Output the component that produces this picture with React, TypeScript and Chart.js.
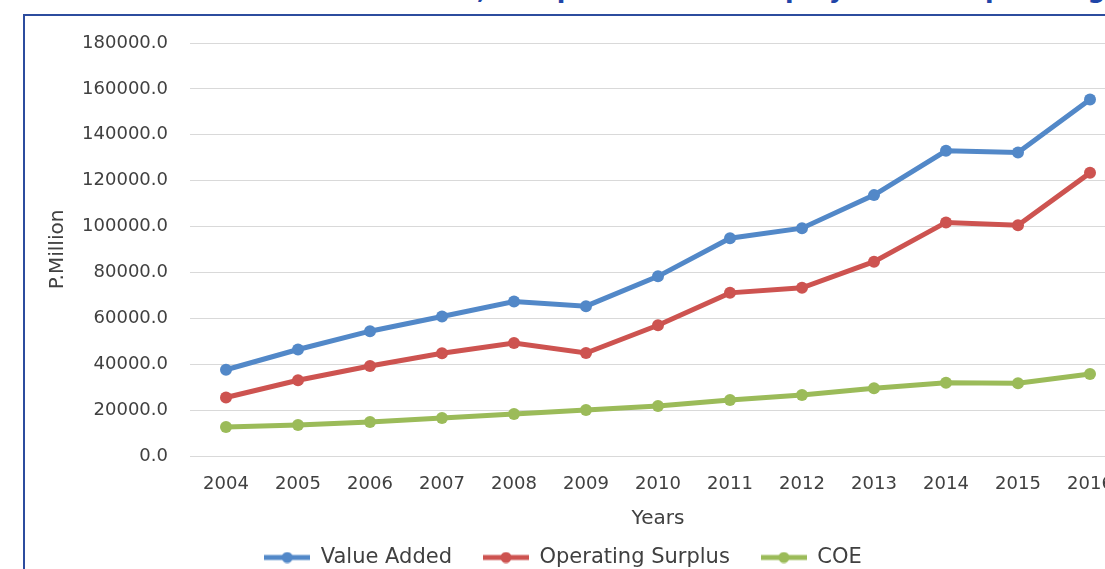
import React, { useEffect, useRef } from "react";
import { Chart, registerables } from "chart.js";

Chart.register(...registerables);

// Series (P.Million)
const years = ["2004", "2005", "2006", "2007", "2008", "2009", "2010", "2011", "2012", "2013", "2014", "2015", "2016"];
const valueAdded = [37600, 46400, 54400, 60800, 67300, 65300, 78300, 94900, 99300, 113700, 133000, 132300, 155400];
const operatingSurplus = [25500, 33000, 39200, 44800, 49200, 44900, 57000, 71100, 73300, 84700, 101800, 100600, 123400];
const coe = [12600, 13500, 14800, 16600, 18300, 20000, 21800, 24400, 26600, 29500, 31900, 31700, 35700];

const seriesNames = ["Value Added", "Operating Surplus", "COE"];
const seriesColors = ["#5288C8", "#CD5350", "#9BBB59"];

const FONT = "'DejaVu Sans', sans-serif";
const TEXT = "#404040";

// Small line-with-dot swatch used as the legend marker
function legendMarker(color: string): HTMLCanvasElement {
  const c = document.createElement("canvas");
  c.width = 46;
  c.height = 12;
  const g = c.getContext("2d")!;
  g.strokeStyle = color;
  g.lineWidth = 5;
  g.beginPath();
  g.moveTo(0, 6);
  g.lineTo(46, 6);
  g.stroke();
  g.fillStyle = color;
  g.beginPath();
  g.arc(23, 6, 5.5, 0, Math.PI * 2);
  g.fill();
  return c;
}

function LineChart() {
  const ref = useRef<HTMLCanvasElement | null>(null);

  useEffect(() => {
    if (!ref.current) return;
    const seriesData = [valueAdded, operatingSurplus, coe];
    const chart = new Chart(ref.current, {
      type: "line",
      data: {
        labels: years,
        datasets: seriesData.map((d, i) => ({
          label: seriesNames[i],
          data: d,
          borderColor: seriesColors[i],
          backgroundColor: seriesColors[i],
          pointBackgroundColor: seriesColors[i],
          pointBorderColor: seriesColors[i],
          borderWidth: 5,
          pointRadius: 6,
          pointBorderWidth: 0,
          tension: 0,
        })),
      },
      options: {
        animation: false,
        responsive: false,
        devicePixelRatio: 1,
        layout: { padding: { top: 43, right: 24, left: 0, bottom: 0 } },
        plugins: {
          tooltip: { enabled: false },
          legend: {
            position: "bottom",
            labels: {
              usePointStyle: true,
              pointStyleWidth: 46,
              padding: 31,
              color: TEXT,
              font: { family: FONT, size: 21 },
              generateLabels: (c: any) =>
                Chart.defaults.plugins.legend.labels.generateLabels(c).map((item: any, i: number) => ({
                  ...item,
                  pointStyle: legendMarker(seriesColors[i]),
                })),
            },
          },
        },
        scales: {
          x: {
            offset: true,
            grid: { display: false, drawTicks: false },
            border: { display: false },
            ticks: {
              color: TEXT,
              font: { family: FONT, size: 18 },
              padding: 18,
              autoSkip: false,
              maxRotation: 0,
            },
            title: {
              display: true,
              text: "Years",
              color: TEXT,
              font: { family: FONT, size: 20 },
              padding: { top: 0, bottom: -15 },
            },
            afterFit: (s: any) => {
              s.height = 60;
            },
          },
          y: {
            min: 0,
            max: 180000,
            grid: { color: "#D9D9D9", lineWidth: 1, drawTicks: false },
            border: { display: false },
            ticks: {
              stepSize: 20000,
              color: TEXT,
              font: { family: FONT, size: 18 },
              padding: 22,
              callback: (v: any) => Number(v).toFixed(1),
            },
            title: {
              display: true,
              text: "P.Million",
              color: TEXT,
              font: { family: FONT, size: 20 },
              padding: { top: 46, bottom: 0 },
            },
            afterFit: (s: any) => {
              s.width = 190;
            },
          },
        },
      },
    } as any);
    return () => chart.destroy();
  }, []);

  return (
    <canvas
      ref={ref}
      width={1150}
      height={578}
      style={{ position: "absolute", left: 0, top: 0, display: "block" }}
    />
  );
}

export default function App() {
  return (
    <div
      style={{
        position: "fixed",
        left: 0,
        top: 0,
        width: 1105,
        height: 569,
        overflow: "hidden",
        background: "#FFFFFF",
      }}
    >
      <div
        style={{
          position: "absolute",
          left: 300,
          top: -23,
          whiteSpace: "nowrap",
          fontFamily: FONT,
          fontWeight: "bold",
          fontSize: 25,
          lineHeight: "25px",
          color: "#1F45A8",
        }}
      >
        Value Added, Compensation of Employees and Operating Surplus
      </div>
      <div
        style={{
          position: "absolute",
          left: 23,
          top: 14,
          width: 1200,
          height: 700,
          borderTop: "2px solid #2C4C9E",
          borderLeft: "2px solid #2C4C9E",
        }}
      />
      <LineChart />
    </div>
  );
}
